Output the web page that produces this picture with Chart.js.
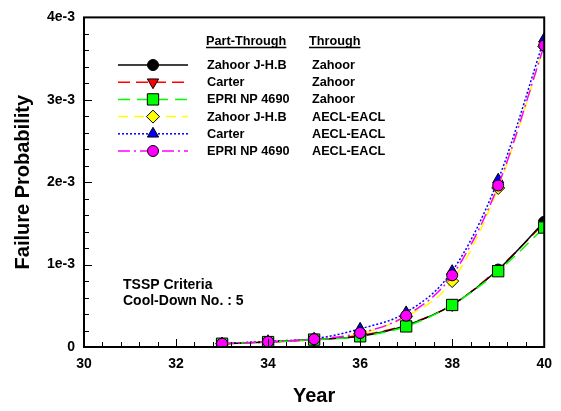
<!DOCTYPE html>
<html lang="en">
<head>
  <meta charset="UTF-8">
  <title>Failure Probability vs Year</title>
  <script src="https://cdn.jsdelivr.net/npm/chart.js"></script>
  <style>
    body, html {
      width: 561px;
      height: 411px;
      margin: 0;
      padding: 0;
      overflow: hidden;
      background: #fff;
    }
  </style>
</head>
<body>
  <canvas id="fpChart" width="561" height="411"></canvas>

  <script>
    // data (probability values, x = year)
    const years = [33, 34, 35, 36, 37, 38, 39, 40];
    const zahoorJHB_zahoor = [0.00004, 0.00006, 0.00009, 0.00013, 0.00026, 0.00051, 0.00094, 0.00152];
    const carter_zahoor    = [0.00004, 0.00006, 0.00009, 0.00014, 0.00027, 0.00051, 0.00095, 0.00150];
    const epri_zahoor      = [0.00004, 0.00006, 0.00009, 0.00013, 0.00025, 0.00051, 0.00092, 0.00145];
    const zahoorJHB_aecl   = [0.00004, 0.00006, 0.00009, 0.00016, 0.00037, 0.00080, 0.00193, 0.00365];
    const carter_aecl      = [0.00004, 0.00007, 0.00010, 0.00022, 0.00042, 0.00092, 0.00203, 0.00374];
    const epri_aecl        = [0.00004, 0.000064, 0.000095, 0.00017, 0.00038, 0.00087, 0.00196, 0.00366];

    const partThrough = ['Zahoor J-H.B', 'Carter', 'EPRI NP 4690', 'Zahoor J-H.B', 'Carter', 'EPRI NP 4690'];
    const through = ['Zahoor', 'Zahoor', 'Zahoor', 'AECL-EACL', 'AECL-EACL', 'AECL-EACL'];
    const yTicks = [0, 0.001, 0.002, 0.003, 0.004];
    const yTickLabels = ['0', '1e-3', '2e-3', '3e-3', '4e-3'];

    const FONT = "'Liberation Sans', Arial, sans-serif";

    function pts(arr) {
      return years.map((y, i) => ({ x: y, y: arr[i] }));
    }

    function series(label, arr, color, dash, style, radius, fill, rot, order) {
      return {
        label: label,
        data: pts(arr),
        borderColor: color,
        borderWidth: 1.5,
        borderDash: dash,
        cubicInterpolationMode: 'monotone',
        pointStyle: style,
        pointRotation: rot,
        pointRadius: radius,
        pointBackgroundColor: fill,
        pointBorderColor: '#000',
        pointBorderWidth: 1,
        order: order
      };
    }

    const datasets = [
      series('Zahoor J-H.B / Zahoor', zahoorJHB_zahoor, '#000000', [], 'circle', 5.5, '#000000', 0, 3),
      series('Carter / Zahoor', carter_zahoor, '#ff0000', [12, 6], 'triangle', 6.5, '#ff0000', 180, 4),
      series('EPRI NP 4690 / Zahoor', epri_zahoor, '#00ff00', [12, 7], 'rect', 8, '#00ff00', 0, 2),
      series('Zahoor J-H.B / AECL-EACL', zahoorJHB_aecl, '#ffff00', [10, 6], 'rectRot', 6.5, '#ffff00', 0, 5),
      series('Carter / AECL-EACL', carter_aecl, '#0000ff', [2, 2], 'triangle', 6.5, '#0000ff', 0, 6),
      series('EPRI NP 4690 / AECL-EACL', epri_aecl, '#ff00ff', [12, 4, 2, 4], 'circle', 5.5, '#ff00ff', 0, 1)
    ];

    // frame, inward ticks, legend and note
    const decorPlugin = {
      id: 'decor',
      afterDraw(chart) {
        const ctx = chart.ctx;
        const a = chart.chartArea;
        const xs = chart.scales.x;
        const ys = chart.scales.y;
        ctx.save();

        // inward ticks
        ctx.strokeStyle = '#000';
        ctx.lineWidth = 1;
        for (let k = 0; k <= 25; k++) {
          const v = 30 + k * 0.4;
          const px = Math.round(xs.getPixelForValue(v)) + 0.5;
          const len = k % 5 === 0 ? 8 : 5;
          ctx.beginPath();
          ctx.moveTo(px, a.bottom);
          ctx.lineTo(px, a.bottom - len);
          ctx.stroke();
        }
        for (let k = 0; k <= 20; k++) {
          const v = k * 0.0002;
          const py = Math.round(ys.getPixelForValue(v)) + 0.5;
          const len = k % 5 === 0 ? 8 : 5;
          ctx.beginPath();
          ctx.moveTo(a.left, py);
          ctx.lineTo(a.left + len, py);
          ctx.stroke();
        }

        // frame
        ctx.lineWidth = 2;
        ctx.strokeRect(a.left, a.top, a.right - a.left, a.bottom - a.top);

        // legend
        ctx.fillStyle = '#000';
        ctx.font = 'bold 12.7px ' + FONT;
        ctx.textBaseline = 'alphabetic';
        ctx.textAlign = 'left';
        const headY = 45;
        ctx.fillText('Part-Through', 206, headY);
        ctx.fillText('Through', 309, headY);
        ctx.lineWidth = 1.3;
        ctx.beginPath();
        ctx.moveTo(206, headY + 2.5);
        ctx.lineTo(206 + ctx.measureText('Part-Through').width, headY + 2.5);
        ctx.moveTo(309, headY + 2.5);
        ctx.lineTo(309 + ctx.measureText('Through').width, headY + 2.5);
        ctx.stroke();

        datasets.forEach((ds, i) => {
          const ry = 65 + i * 17.2;
          ctx.save();
          ctx.strokeStyle = ds.borderColor;
          ctx.lineWidth = ds.borderWidth;
          ctx.setLineDash(ds.borderDash);
          ctx.beginPath();
          ctx.moveTo(118, ry);
          ctx.lineTo(188, ry);
          ctx.stroke();
          ctx.restore();

          ctx.save();
          ctx.fillStyle = ds.pointBackgroundColor;
          ctx.strokeStyle = ds.pointBorderColor;
          ctx.lineWidth = 1;
          Chart.helpers.drawPoint(ctx, {
            pointStyle: ds.pointStyle,
            rotation: ds.pointRotation,
            radius: ds.pointRadius,
            borderWidth: 1
          }, 153, ry);
          ctx.restore();

          ctx.fillStyle = '#000';
          ctx.textBaseline = 'middle';
          ctx.fillText(partThrough[i], 207, ry + 0.5);
          ctx.fillText(through[i], 312, ry + 0.5);
        });

        // note
        ctx.font = 'bold 14px ' + FONT;
        ctx.textBaseline = 'alphabetic';
        ctx.fillText('TSSP Criteria', 123, 289);
        ctx.fillText('Cool-Down No. : 5', 123, 305);

        ctx.restore();
      }
    };

    new Chart(document.getElementById('fpChart').getContext('2d'), {
      type: 'line',
      data: { datasets: datasets },
      options: {
        responsive: false,
        animation: false,
        events: [],
        layout: { padding: { left: 0, right: 16, top: 12, bottom: 0 } },
        plugins: {
          legend: { display: false },
          tooltip: { enabled: false }
        },
        scales: {
          x: {
            type: 'linear',
            min: 30,
            max: 40,
            grid: { display: false, drawTicks: false },
            border: { display: false },
            ticks: {
              stepSize: 2,
              padding: 9,
              color: '#000',
              font: { family: FONT, size: 14, weight: 'bold' }
            },
            title: {
              display: true,
              text: 'Year',
              color: '#000',
              font: { family: FONT, size: 20, weight: 'bold' },
              padding: { top: 0, bottom: 3 }
            },
            afterFit(scale) { scale.height = 64; }
          },
          y: {
            type: 'linear',
            min: 0,
            max: 0.004,
            grid: { display: false, drawTicks: false },
            border: { display: false },
            afterBuildTicks(scale) {
              scale.ticks = yTicks.map(v => ({ value: v }));
            },
            ticks: {
              padding: 9,
              color: '#000',
              font: { family: FONT, size: 14, weight: 'bold' },
              callback: (v) => {
                const idx = yTicks.findIndex(t => Math.abs(t - v) < 1e-9);
                return idx >= 0 ? yTickLabels[idx] : '';
              }
            },
            title: {
              display: true,
              text: 'Failure Probability',
              color: '#000',
              font: { family: FONT, size: 20, weight: 'bold' },
              padding: { top: 11, bottom: 0 }
            },
            afterFit(scale) { scale.width = 84; }
          }
        }
      },
      plugins: [decorPlugin]
    });
  </script>
</body>
</html>
